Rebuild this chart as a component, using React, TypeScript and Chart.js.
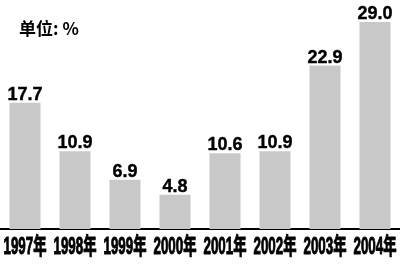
import React, { useEffect, useRef } from "react";
import { Chart, registerables } from "chart.js";

Chart.register(...registerables);

const categories = ["1997年", "1998年", "1999年", "2000年", "2001年", "2002年", "2003年", "2004年"];
const values = [17.7, 10.9, 6.9, 4.8, 10.6, 10.9, 22.9, 29.0];
const unitLabel = "单位: %";

const valueLabelPlugin = {
  id: "valueLabels",
  afterDatasetsDraw(chart: any) {
    const ctx = chart.ctx;
    const meta = chart.getDatasetMeta(0);
    ctx.save();
    ctx.font = "bold 18px 'Liberation Sans', Arial, sans-serif";
    ctx.fillStyle = "#000";
    ctx.strokeStyle = "#000";
    ctx.lineWidth = 0.4;
    ctx.textAlign = "center";
    ctx.textBaseline = "alphabetic";
    meta.data.forEach((bar: any, i: number) => {
      const t = values[i].toFixed(1);
      ctx.fillText(t, bar.x, bar.y - 3);
      ctx.strokeText(t, bar.x, bar.y - 3);
    });
    ctx.restore();
  },
};

// condensed category labels under the axis, placed at the x scale's tick pixels
const condensedTicksPlugin = {
  id: "condensedTicks",
  afterDraw(chart: any) {
    const ctx = chart.ctx;
    const xs = chart.scales.x;
    ctx.save();
    ctx.fillStyle = "#000";
    ctx.strokeStyle = "#000";
    ctx.textAlign = "center";
    ctx.textBaseline = "alphabetic";
    ctx.font = "bold 23px 'Liberation Sans', 'Noto Sans CJK SC', sans-serif";
    categories.forEach((label, i) => {
      const x = xs.getPixelForTick(i);
      ctx.save();
      ctx.translate(x, xs.top + 25);
      ctx.scale(0.58, 1);
      ctx.lineWidth = 1;
      ctx.fillText(label, 0, 0);
      ctx.strokeText(label, 0, 0);
      ctx.restore();
    });
    ctx.restore();
  },
};

export default function App() {
  const ref = useRef<HTMLCanvasElement>(null);
  useEffect(() => {
    if (!ref.current) return;
    const chart = new Chart(ref.current, {
      type: "bar",
      data: {
        labels: categories,
        datasets: [
          {
            data: values,
            backgroundColor: "#c8c8c8",
            barPercentage: 0.62,
            categoryPercentage: 1,
          },
        ],
      },
      options: {
        animation: false,
        responsive: false,
        layout: { padding: { top: 22, left: 0, right: 0, bottom: 0 } },
        plugins: { legend: { display: false }, tooltip: { enabled: false } },
        scales: {
          x: {
            afterFit: (s: any) => {
              s.height = 35;
              s.paddingLeft = 0;
              s.paddingRight = 0;
            },
            grid: { display: false, drawTicks: false },
            border: { display: true, color: "#000", width: 2 },
            ticks: { display: false },
          },
          y: { display: false, min: 0, max: 29 },
        },
      },
      plugins: [valueLabelPlugin, condensedTicksPlugin],
    });
    return () => chart.destroy();
  }, []);
  return (
    <div style={{ position: "fixed", left: 0, top: 0, width: 400, height: 264, background: "#fff" }}>
      <canvas ref={ref} width={400} height={264} style={{ display: "block" }} />
      <div
        style={{
          position: "absolute",
          left: 19,
          top: 18,
          fontFamily: "'Noto Sans CJK SC', sans-serif",
          fontWeight: "bold",
          fontSize: 17,
          lineHeight: "20px",
          color: "#000",
          whiteSpace: "nowrap",
        }}
      >
        {unitLabel}
      </div>
    </div>
  );
}
